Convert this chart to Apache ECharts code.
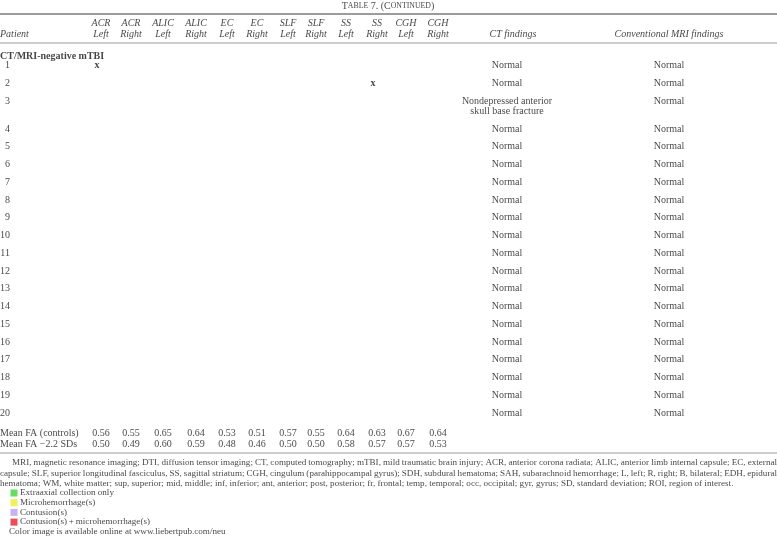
<!DOCTYPE html>
<html><head><meta charset="utf-8">
<script src="https://cdn.jsdelivr.net/npm/echarts@6/dist/echarts.min.js"></script>
<style>html,body{margin:0;padding:0;background:#fff}#c{width:777px;height:536px}</style>
</head><body><div id="c"></div>
<script>
// ---------------- DATA ----------------
const regions = ['ACR','ACR','ALIC','ALIC','EC','EC','SLF','SLF','SS','SS','CGH','CGH'];
const sides = ['Left','Right','Left','Right','Left','Right','Left','Right','Left','Right','Left','Right'];
const sectionLabel = 'CT/MRI-negative mTBI';
const patients = ['1','2','3','4','5','6','7','8','9','10','11','12','13','14','15','16','17','18','19','20'];
const ctFindings = ['Normal','Normal','Nondepressed anterior\nskull base fracture','Normal','Normal','Normal','Normal','Normal','Normal','Normal','Normal','Normal','Normal','Normal','Normal','Normal','Normal','Normal','Normal','Normal'];
const mriFindings = ['Normal','Normal','Normal','Normal','Normal','Normal','Normal','Normal','Normal','Normal','Normal','Normal','Normal','Normal','Normal','Normal','Normal','Normal','Normal','Normal'];
// abnormal FA cells: [patient index, region column index]
const abnormalCells = [[0,0],[1,9]];
const meanFALabel = 'Mean FA (controls)';
const meanFAControls = [0.56,0.55,0.65,0.64,0.53,0.51,0.57,0.55,0.64,0.63,0.67,0.64];
const threshLabel = 'Mean FA \u22122.2 SDs';
const meanFAMinus22SD = [0.50,0.49,0.60,0.59,0.48,0.46,0.50,0.50,0.58,0.57,0.57,0.53];
const footnoteLines = [
 'MRI, magnetic resonance imaging; DTI, diffusion tensor imaging; CT, computed tomography; mTBI, mild traumatic brain injury; ACR, anterior corona radiata; ALIC, anterior limb internal capsule; EC, external',
 'capsule; SLF, superior longitudinal fasciculus, SS, sagittal striatum; CGH, cingulum (parahippocampal gyrus); SDH, subdural hematoma; SAH, subarachnoid hemorrhage; L, left; R, right; B, bilateral; EDH, epidural',
 'hematoma; WM, white matter; sup, superior; mid, middle; inf, inferior; ant, anterior; post, posterior; fr, frontal; temp, temporal; occ, occipital; gyr, gyrus; SD, standard deviation; ROI, region of interest.'
];
const legendLabels = ['Extraaxial collection only','Microhemorrhage(s)','Contusion(s)','Contusion(s)\u2009+\u2009microhemorrhage(s)'];
const legendColors = ['#45d33c','#eeee30','#b6a3e6','#e3232a'];
const availabilityNote = 'Color image is available online at www.liebertpub.com/neu';

// ---------------- LAYOUT / STYLE ----------------
const W = 777, H = 536;
const INK = '#141414', RULE = '#9c9c9c';
const FONT = '"Liberation Serif","Times New Roman",serif';
const FOOT = 9.1;
const L = {
  titleY: 6, topRuleY: 14, head1Y: 23, head2Y: 34, headRuleY: 43, sectionY: 56,
  row0Y: 65.5, rowStep: 17.75, lineGap: 10.3,
  meanY: [433, 444], bottomRuleY: 453,
  footY: 463, footGap: 10.3, footIndent: 12,
  legendY: 493, legendGap: 9.7,
  colX: [101,131,163,196,227,257,288,316,346,377,406,438],
  rowNumRightX: 10, ctX: 507, ctHeadX: 513, mriX: 669,
  legendSqX: 14, legendTextX: 20, noteX: 9
};

const texts = [];
function txt(x, y, text, opts) {
  texts.push({ value: [x, y], label: Object.assign({
    show: true, formatter: text, position: 'inside', align: 'center', verticalAlign: 'middle',
    color: INK, fontFamily: FONT, fontSize: 10
  }, opts || {}) });
}

// title (small caps)
texts.push({ value: [388, L.titleY], label: {
  show: true, position: 'inside', align: 'center', verticalAlign: 'middle',
  formatter: '{a|T}{b|ABLE}{a| 7. (C}{b|ONTINUED}{a|)}',
  rich: { a: { fontFamily: FONT, fontSize: 10, color: INK }, b: { fontFamily: FONT, fontSize: 7.8, color: INK } }
}});

// header
txt(0, L.head2Y, 'Patient', { align: 'left', fontStyle: 'italic' });
regions.forEach((r, i) => {
  txt(L.colX[i], L.head1Y, r, { fontStyle: 'italic' });
  txt(L.colX[i], L.head2Y, sides[i], { fontStyle: 'italic' });
});
txt(L.ctHeadX, L.head2Y, 'CT findings', { fontStyle: 'italic' });
txt(L.mriX, L.head2Y, 'Conventional MRI findings', { fontStyle: 'italic' });

// section
txt(0, L.sectionY, sectionLabel, { align: 'left', fontWeight: 'bold' });

// rows
let y = L.row0Y;
const rowYs = [];
patients.forEach((p, i) => {
  rowYs.push(y);
  txt(L.rowNumRightX, y, p, { align: 'right' });
  const ctLines = ctFindings[i].split('\n');
  ctLines.forEach((ln, k) => txt(L.ctX, y + k * L.lineGap, ln));
  txt(L.mriX, y, mriFindings[i]);
  y += L.rowStep + (ctLines.length - 1) * L.lineGap;
});
abnormalCells.forEach(([pi, ci]) => {
  txt(L.colX[ci] - 4, rowYs[pi], 'x', { fontWeight: 'bold' });
});

// mean FA rows
txt(0, L.meanY[0], meanFALabel, { align: 'left' });
txt(0, L.meanY[1], threshLabel, { align: 'left' });
meanFAControls.forEach((v, i) => txt(L.colX[i], L.meanY[0], v.toFixed(2)));
meanFAMinus22SD.forEach((v, i) => txt(L.colX[i], L.meanY[1], v.toFixed(2)));

// footnotes (justified)
const ctx = document.createElement('canvas').getContext('2d');
ctx.font = FOOT + 'px "Liberation Serif"';
footnoteLines.forEach((line, li) => {
  const yy = L.footY + li * L.footGap;
  const left = li === 0 ? L.footIndent : 0;
  if (li === footnoteLines.length - 1) {
    txt(left, yy, line, { align: 'left', fontSize: FOOT });
    return;
  }
  const words = line.split(' ');
  const ws = words.map(w => ctx.measureText(w).width);
  const total = ws.reduce((a, b) => a + b, 0);
  const gap = (W - left - total) / (words.length - 1);
  let x = left;
  words.forEach((w, k) => { txt(x, yy, w, { align: 'left', fontSize: FOOT }); x += ws[k] + gap; });
});

// legend
const legendPts = [];
legendLabels.forEach((lab, i) => {
  const yy = L.legendY + i * L.legendGap;
  legendPts.push({ value: [L.legendSqX, yy], itemStyle: { color: legendColors[i] } });
  txt(L.legendTextX, yy, lab, { align: 'left', fontSize: FOOT });
});
txt(L.noteX, L.legendY + legendLabels.length * L.legendGap, availabilityNote, { align: 'left', fontSize: FOOT });

function rule(yv, w) {
  return { type: 'line', data: [[0, yv], [W, yv]], symbol: 'none', silent: true,
    lineStyle: { color: RULE, width: w }, animation: false, z: 1 };
}

const chart = echarts.init(document.getElementById('c'));
chart.setOption({
  animation: false,
  grid: { left: 0, right: 0, top: 0, bottom: 0 },
  xAxis: { type: 'value', min: 0, max: W, show: false },
  yAxis: { type: 'value', min: 0, max: H, inverse: true, show: false },
  series: [
    rule(L.topRuleY, 2), rule(L.headRuleY, 1.2), rule(L.bottomRuleY, 1.2),
    { type: 'scatter', data: legendPts, symbol: 'rect', symbolSize: 7, silent: true, z: 2 },
    { type: 'scatter', data: texts, symbolSize: 1, itemStyle: { color: 'rgba(0,0,0,0)' }, silent: true, z: 3 }
  ]
});
</script></body></html>
